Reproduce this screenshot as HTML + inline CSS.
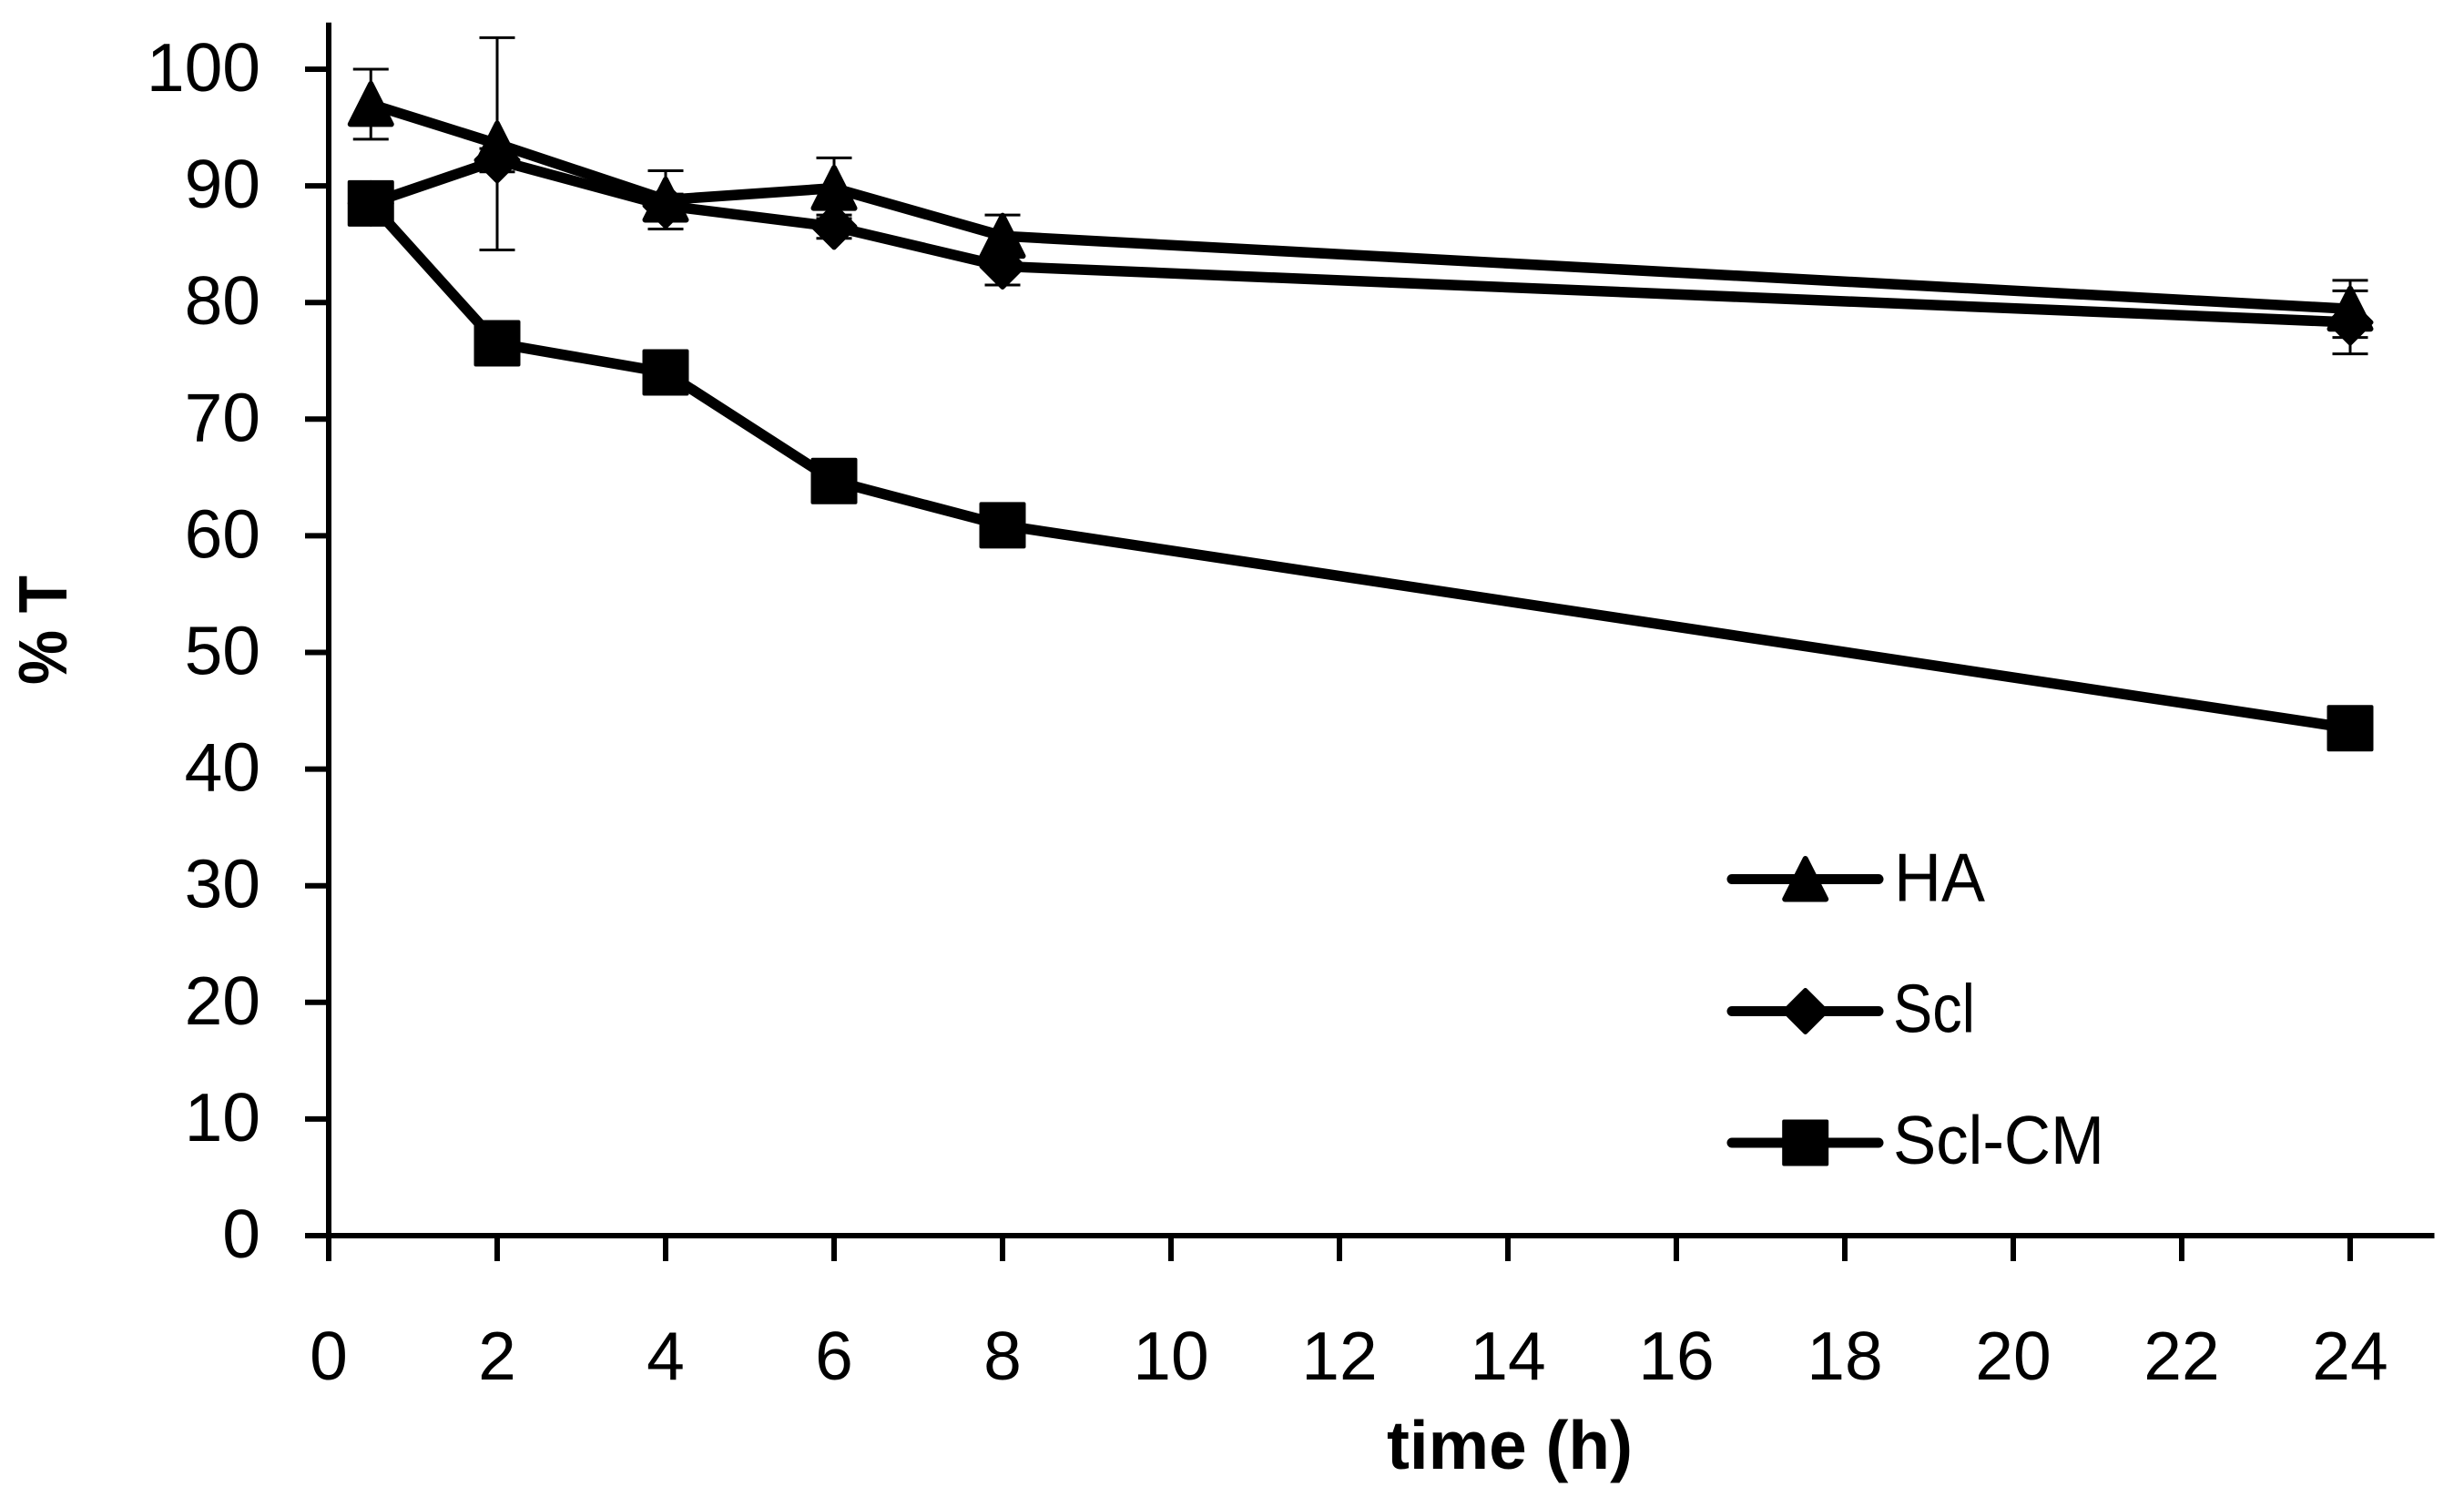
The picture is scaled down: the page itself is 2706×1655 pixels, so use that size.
<!DOCTYPE html>
<html lang="en">
<head>
<meta charset="utf-8">
<title>% T versus time</title>
<style>
html,body{margin:0;padding:0;background:#fff;width:2706px;height:1655px;overflow:hidden}
svg{display:block}
text{font-family:"Liberation Sans",sans-serif;fill:#000}
.tick{font-size:75px}
.title{font-size:75px;font-weight:bold}
.legend-label{font-size:75px}
</style>
</head>
<body>
<svg id="chart" xmlns="http://www.w3.org/2000/svg" width="2706" height="1655" viewBox="0 0 2706 1655">
  <rect x="0" y="0" width="2706" height="1655" fill="#fff"/>
  <g id="axes"></g>
  <g id="errors"></g>
  <g id="series"></g>
  <text class="title" x="1523" y="1613" textLength="270" lengthAdjust="spacingAndGlyphs">time (h)</text>
  <text class="title" transform="translate(73 752) rotate(-90)" x="0" y="0" textLength="120" lengthAdjust="spacingAndGlyphs">% T</text>
  <g id="legend">
    <g>
      <line x1="1902" y1="965.5" x2="2063" y2="965.5" stroke="#000" stroke-width="11" stroke-linecap="round"/>
      <polygon points="1982.7,943 2005.2,987.5 1960.2,987.5" fill="#000" stroke="#000" stroke-width="6" stroke-linejoin="round"/>
      <text class="legend-label" x="2080" y="989.5" textLength="100" lengthAdjust="spacingAndGlyphs">HA</text>
    </g>
    <g>
      <line x1="1902" y1="1110.5" x2="2063" y2="1110.5" stroke="#000" stroke-width="11" stroke-linecap="round"/>
      <polygon points="1982.7,1087.5 2005.7,1110.5 1982.7,1133.5 1959.7,1110.5" fill="#000" stroke="#000" stroke-width="5" stroke-linejoin="round"/>
      <text class="legend-label" x="2079" y="1133.5" textLength="90" lengthAdjust="spacingAndGlyphs">Scl</text>
    </g>
    <g>
      <line x1="1902" y1="1255" x2="2063" y2="1255" stroke="#000" stroke-width="11" stroke-linecap="round"/>
      <rect x="1959.2" y="1231.5" width="47" height="47" fill="#000" stroke="#000" stroke-width="4" stroke-linejoin="round"/>
      <text class="legend-label" x="2079" y="1278" textLength="232" lengthAdjust="spacingAndGlyphs">Scl-CM</text>
    </g>
  </g>
</svg>
<script>
const times = [0.5, 2, 4, 6, 8, 24];
const haValues = [97, 93.6, 88.8, 89.8, 85.7, 79.45];
const sclValues = [88.5, 92.2, 88.3, 86.5, 83.1, 78.3];
const sclCmValues = [88.5, 76.5, 74, 64.7, 60.9, 43.5];
const haErrors = [3, 9.1, 2.5, 2.6, 1.8, 2.45];
const sclErrors = [0, 1, 1, 1, 1.6, 2.7];
const xTickLabels = [0, 2, 4, 6, 8, 10, 12, 14, 16, 18, 20, 22, 24];
const yTickLabels = [0, 10, 20, 30, 40, 50, 60, 70, 80, 90, 100];
const xAxisMax = 25;
const yAxisMax = 104;

const SVGNS = 'http://www.w3.org/2000/svg';
function xScale(v) { return 361 + v * 92.5; }
function yScale(v) { return 1357 - v * 12.81; }
function make(tag, attrs, parent) {
  const el = document.createElementNS(SVGNS, tag);
  for (const k in attrs) el.setAttribute(k, attrs[k]);
  parent.appendChild(el);
  return el;
}

const axes = document.getElementById('axes');
const errorsGroup = document.getElementById('errors');
const seriesGroup = document.getElementById('series');
const black = { stroke: '#000' };

const xAxisLine = make('line', { x1: 335, y1: yScale(0), x2: xScale(xAxisMax), y2: yScale(0), 'stroke-width': 6, ...black }, axes);


const yAxisLine = make('line', { x1: xScale(0), y1: yScale(yAxisMax), x2: xScale(0), y2: 1385, 'stroke-width': 6, ...black }, axes);



xTickLabels.forEach(function (t) {
  const tick = make('line', { x1: xScale(t), y1: yScale(0), x2: xScale(t), y2: 1385, 'stroke-width': 6, ...black }, axes);
  
  
  const label = make('text', { x: xScale(t), y: 1515, 'text-anchor': 'middle', class: 'tick' }, axes);
  label.textContent = String(t);
  
  
});

yTickLabels.forEach(function (t) {
  const tick = make('line', { x1: 335, y1: yScale(t), x2: xScale(0), y2: yScale(t), 'stroke-width': 6, ...black }, axes);
  
  
  const label = make('text', { x: 286, y: yScale(t) + 24, 'text-anchor': 'end', class: 'tick' }, axes);
  label.textContent = String(t);
  
  
});

function drawErrors(key, values, errs) {
  values.forEach(function (v, i) {
    if (!errs[i]) return;
    const x = xScale(times[i]);
    const top = yScale(v + errs[i]);
    const bottom = yScale(v - errs[i]);
    const bar = make('path', {
      d: 'M' + x + ' ' + top + 'V' + bottom +
         'M' + (x - 19.5) + ' ' + top + 'H' + (x + 19.5) +
         'M' + (x - 19.5) + ' ' + bottom + 'H' + (x + 19.5),
      fill: 'none', 'stroke-width': 3, ...black
    }, errorsGroup);
    
    
  });
}

function drawLine(key, values) {
  const points = values.map(function (v, i) { return xScale(times[i]) + ',' + yScale(v); }).join(' ');
  const line = make('polyline', {
    points: points, fill: 'none', 'stroke-width': 11.5,
    'stroke-linejoin': 'round', 'stroke-linecap': 'round', ...black
  }, seriesGroup);
  
  
}

function drawTriangles(key, values) {
  values.forEach(function (v, i) {
    const x = xScale(times[i]);
    const y = yScale(v);
    const m = make('polygon', {
      points: x + ',' + (y - 22.5) + ' ' + (x + 22.5) + ',' + (y + 22) + ' ' + (x - 22.5) + ',' + (y + 22),
      fill: '#000', 'stroke-width': 6, 'stroke-linejoin': 'round', ...black
    }, seriesGroup);
    
    
  });
}

function drawDiamonds(key, values) {
  values.forEach(function (v, i) {
    const x = xScale(times[i]);
    const y = yScale(v);
    const m = make('polygon', {
      points: x + ',' + (y - 23) + ' ' + (x + 23) + ',' + y + ' ' + x + ',' + (y + 23) + ' ' + (x - 23) + ',' + y,
      fill: '#000', 'stroke-width': 5, 'stroke-linejoin': 'round', ...black
    }, seriesGroup);
    
    
  });
}

function drawSquares(key, values) {
  values.forEach(function (v, i) {
    const x = xScale(times[i]);
    const y = yScale(v);
    const m = make('rect', {
      x: x - 23.5, y: y - 23.5, width: 47, height: 47,
      fill: '#000', 'stroke-width': 4, 'stroke-linejoin': 'round', ...black
    }, seriesGroup);
    
    
  });
}

drawErrors('ha', haValues, haErrors);
drawErrors('scl', sclValues, sclErrors);
drawLine('ha', haValues);
drawLine('scl', sclValues);
drawLine('scl-cm', sclCmValues);
drawTriangles('ha', haValues);
drawDiamonds('scl', sclValues);
drawSquares('scl-cm', sclCmValues);
</script>
</body>
</html>
